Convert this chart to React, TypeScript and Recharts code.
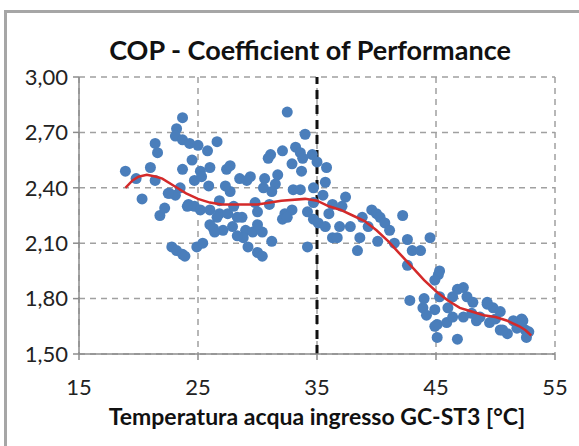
import {
  ScatterChart,
  Scatter,
  XAxis,
  YAxis,
  CartesianGrid,
  ReferenceLine,
  Label,
} from "recharts";

// water inlet temperature [°C] and measured COP
const tempX = [
  18.9, 20.3, 21.0, 21.4, 21.4, 21.6, 21.8, 22.2, 22.6, 23.1, 23.7, 23.2, 23.1, 23.7, 24.3, 25.0,
  25.8, 26.6, 24.5, 23.7, 25.2, 26.0, 24.7, 25.3, 27.4, 24.2, 24.7, 25.2, 26.0, 26.8, 26.8, 26.3,
  27.1, 22.8, 23.2, 23.7, 23.9, 24.9, 25.4, 32.5, 34.0, 31.1, 30.9, 32.1, 33.2, 33.6, 33.8, 32.9,
  33.7, 35.0, 35.8, 27.7, 28.5, 29.4, 30.6, 31.5, 31.2, 33.0, 34.7, 35.7, 27.7, 27.5, 28.7, 30.0,
  32.3, 32.9, 32.1, 34.2, 35.1, 35.7, 27.9, 29.0, 29.6, 30.4, 31.2, 29.2, 30.0, 30.4, 34.2, 28.8,
  26.4, 28.3, 36.3, 37.4, 36.3, 39.6, 40.0, 40.3, 40.7, 41.1, 42.2, 36.9, 36.7, 37.8, 38.6, 38.4,
  40.1, 42.6, 43.0, 43.7, 44.5, 42.6, 45.2, 44.9, 42.8, 43.9, 44.2, 44.9, 45.1, 45.1, 45.3, 45.9,
  46.8, 46.8, 47.3, 47.6, 48.1, 46.4, 47.3, 48.7, 49.3, 49.8, 50.4, 50.4, 51.0, 51.5, 52.2, 52.5,
  52.6, 45.3, 46.4, 44.9, 48.4, 49.5, 50.6, 52.3, 49.3, 22.5, 24.1, 26.6, 28.3, 29.1, 30.5, 32.5,
  34.7, 34.7, 25.9, 27.3, 33.6, 31.7, 34.6, 19.8, 35.5, 36.0, 38.8, 39.3, 37.1, 41.5, 44.0, 46.0,
  48.0, 50.0, 51.8, 52.8, 23.5, 28.0, 29.8, 31.0, 30.0, 26.0,
];
const copY = [
  2.49, 2.34, 2.51, 2.44, 2.64, 2.59, 2.25, 2.29, 2.37, 2.36, 2.78, 2.72, 2.68, 2.66, 2.64, 2.63,
  2.60, 2.65, 2.55, 2.50, 2.49, 2.51, 2.44, 2.46, 2.50, 2.31, 2.30, 2.28, 2.28, 2.26, 2.33, 2.18,
  2.17, 2.08, 2.06, 2.04, 2.03, 2.08, 2.10, 2.81, 2.69, 2.58, 2.56, 2.60, 2.62, 2.59, 2.56, 2.53,
  2.49, 2.54, 2.51, 2.52, 2.45, 2.46, 2.45, 2.42, 2.38, 2.39, 2.40, 2.43, 2.38, 2.26, 2.24, 2.27,
  2.26, 2.28, 2.23, 2.27, 2.21, 2.19, 2.19, 2.17, 2.16, 2.16, 2.11, 2.08, 2.05, 2.03, 2.08, 2.13,
  2.16, 2.14, 2.13, 2.35, 2.31, 2.28, 2.26, 2.24, 2.21, 2.17, 2.25, 2.19, 2.13, 2.19, 2.13, 2.06,
  2.11, 2.12, 2.06, 2.06, 2.13, 1.98, 1.93, 1.90, 1.79, 1.75, 1.71, 1.74, 1.66, 1.59, 1.81, 1.67,
  1.58, 1.85, 1.86, 1.81, 1.78, 1.70, 1.70, 1.70, 1.78, 1.75, 1.73, 1.63, 1.61, 1.68, 1.69, 1.63,
  1.59, 1.95, 1.81, 1.65, 1.68, 1.67, 1.63, 1.68, 1.77, 2.37, 2.30, 2.24, 2.24, 2.44, 2.40, 2.24,
  2.32, 2.23, 2.41, 2.41, 2.39, 2.47, 2.58, 2.45, 2.36, 2.26, 2.24, 2.19, 2.30, 2.10, 1.80, 1.75,
  1.72, 1.69, 1.64, 1.62, 2.40, 2.30, 2.32, 2.31, 2.20, 2.20,
];

// polynomial trend line
const fitX = [
  18.9, 19.5, 20.0, 20.7, 21.5, 22.0, 23.0, 24.0, 25.0, 26.0, 27.0, 28.0, 30.0, 32.0, 34.0, 35.0,
  36.0, 37.0, 38.0, 39.0, 40.0, 41.0, 42.0, 43.0, 44.0, 45.0, 46.0, 47.0, 48.0, 49.0, 50.0, 51.0,
  52.0, 52.5, 53.0,
];
const fitY = [
  2.40, 2.44, 2.46, 2.47, 2.46, 2.45, 2.41, 2.37, 2.34, 2.32, 2.31, 2.31, 2.31, 2.33, 2.34, 2.33,
  2.30, 2.28, 2.25, 2.22, 2.17, 2.11, 2.04, 1.97, 1.90, 1.84, 1.79, 1.75, 1.73, 1.71, 1.70, 1.68,
  1.65, 1.63, 1.60,
];

const xTicks = [15, 25, 35, 45, 55];
const yTicks = [1.5, 1.8, 2.1, 2.4, 2.7, 3.0];

const points = tempX.map((x, i) => ({ x, y: copY[i] }));
const trend = fitX.map((x, i) => ({ x, y: fitY[i] }));

const font = "Lato, 'Open Sans', sans-serif";

export default function App() {
  return (
    <div
      style={{
        position: "absolute",
        left: 0,
        top: 0,
        width: 579,
        height: 446,
        overflow: "hidden",
        background: "#fff",
        fontFamily: font,
      }}
    >
      <div
        style={{
          position: "absolute",
          left: 4,
          top: 10,
          width: 620,
          height: 500,
          border: "3px solid #a6a6a6",
          boxSizing: "border-box",
        }}
      />
      <div
        style={{
          position: "absolute",
          left: 0,
          top: 33,
          width: 620,
          textAlign: "center",
          fontWeight: 700,
          fontSize: 27,
          color: "#111",
        }}
      >
        COP - Coefficient of Performance
      </div>
      <div style={{ position: "absolute", left: 0, top: 0 }}>
        <ScatterChart
          width={579}
          height={446}
          margin={{ top: 77, right: 24, bottom: 52, left: 0 }}
        >
          <CartesianGrid stroke="#a0a0a0" strokeDasharray="6 5" strokeWidth={1.5} />
          <XAxis
            type="number"
            dataKey="x"
            domain={[15, 55]}
            ticks={xTicks}
            height={40}
            stroke="#8c8c8c"
            strokeWidth={1.5}
            tickSize={6}
            tickMargin={19}
            tick={{ fill: "#222", fontSize: 22, fontFamily: font }}
          >
            <Label
              value="Temperatura acqua ingresso GC-ST3 [°C]"
              position="insideBottom"
              offset={-31}
              style={{ fill: "#111", fontSize: 23, fontWeight: 700, fontFamily: font }}
            />
          </XAxis>
          <YAxis
            type="number"
            dataKey="y"
            domain={[1.5, 3.0]}
            ticks={yTicks}
            width={79}
            stroke="#8c8c8c"
            strokeWidth={1.5}
            tickSize={6}
            tickMargin={5}
            tickFormatter={(v: number) => v.toFixed(2).replace(".", ",")}
            tick={{ fill: "#222", fontSize: 22, fontFamily: font }}
          />
          <Scatter
            data={points}
            fill="#4a7ebb"
            isAnimationActive={false}
            shape={(p: any) => <circle cx={p.cx} cy={p.cy} r={5.5} fill="#4a7ebb" />}
          />
          <Scatter
            data={trend}
            line={{ stroke: "#d42a2a", strokeWidth: 2.5 }}
            lineType="joint"
            isAnimationActive={false}
            shape={() => <g />}
          />
          <ReferenceLine
            x={35}
            stroke="#111"
            strokeWidth={3}
            strokeDasharray="9 6"
          />
        </ScatterChart>
      </div>
    </div>
  );
}
